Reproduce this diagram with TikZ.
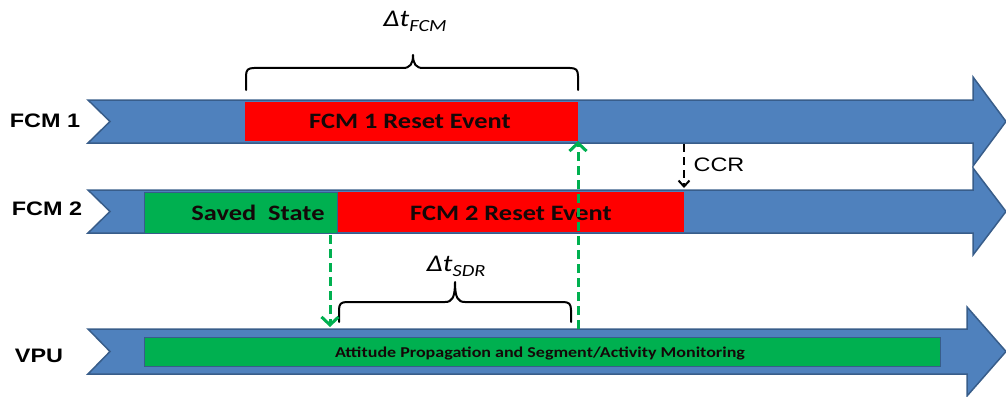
\documentclass[tikz,border=0pt]{standalone}
\usepackage{fontspec}
\setmainfont{Carlito}
\newfontfamily\arialf{Liberation Sans}
\usetikzlibrary{arrows.meta}
\definecolor{ablue}{HTML}{4F81BD}
\definecolor{ablueb}{HTML}{385D8A}
\definecolor{ored}{HTML}{FF0000}
\definecolor{ogreen}{HTML}{00B050}
\definecolor{txtdark}{HTML}{140808}
\newcommand\sx[1]{\scalebox{1.2}[1]{#1}}
\tikzset{
  flowarrow/.style={fill=ablue, draw=ablueb, line width=1.5pt, line join=miter},
  redbox/.style={fill=ored, draw=none, inner sep=0pt, outer sep=0pt},
  greenbox/.style={fill=ogreen, draw=ablueb, line width=1pt, inner sep=0pt, outer sep=0pt},
  boxtext/.style={font=\bfseries\fontsize{22}{24}\selectfont, text=txtdark, inner sep=0pt, anchor=base},
  rowlabel/.style={font=\arialf\bfseries\fontsize{19.5}{22}\selectfont, inner sep=0pt, anchor=base},
  deltalabel/.style={font=\itshape\fontsize{24}{26}\selectfont, inner sep=0pt, anchor=base},
  bracket/.style={draw=black, line width=2pt, line cap=round, line join=round},
  gdash/.style={draw=ogreen, line width=3pt, dash pattern=on 9pt off 5pt,
    -{Straight Barb[length=8pt,width=17pt,line width=3pt]}},
  kdash/.style={draw=black, line width=2pt, dash pattern=on 8pt off 5pt,
    -{Straight Barb[length=6pt,width=11pt,line width=2pt]}}
}
\begin{document}
\begin{tikzpicture}[x=1pt,y=-1pt]
\useasboundingbox (0,0) rectangle (1006,396);

% timeline arrows
\path[flowarrow] (88,100) -- (973,100) -- (973,77) -- (1006,121.5) -- (973,166) -- (973,143) -- (88,143) -- (110,121.5) -- cycle;
\path[flowarrow] (88,190) -- (973,190) -- (973,168) -- (1006,211.5) -- (973,255) -- (973,233) -- (88,233) -- (110,211.5) -- cycle;
\path[flowarrow] (88,329) -- (967,329) -- (967,307) -- (1006,351.5) -- (967,396) -- (967,374) -- (88,374) -- (110,351.5) -- cycle;

% row labels
\node[rowlabel] (l1) at (45,127) {\sx{FCM 1}};
\node[rowlabel] (l2) at (47,215) {\sx{FCM 2}};
\node[rowlabel] (l3) at (39,362) {\sx{VPU}};

% boxes
\node[redbox, minimum width=333pt, minimum height=39pt, anchor=north west] (r1) at (245,102) {};
\node[greenbox, minimum width=193pt, minimum height=41pt, anchor=north west] (ss) at (144,192) {};
\node[redbox, minimum width=346pt, minimum height=40pt, anchor=north west] (r2) at (338,192) {};
\node[greenbox, minimum width=796pt, minimum height=29pt, anchor=north west] (att) at (144,337) {};

\node[boxtext] (t1) at (410,128) {\sx{FCM 1 Reset Event}};
\node[boxtext] (t2) at (258,220) {\sx{Saved\ \ State}};
\node[boxtext] (t3) at (511,220) {\sx{FCM 2 Reset Event}};
\node[boxtext, font=\bfseries\fontsize{15}{17}\selectfont] (t4) at (540,357) {\sx{Attitude Propagation and Segment/Activity Monitoring}};

% brackets
\draw[bracket] (246,90) -- (246,76) .. controls (246,70) and (248,68) .. (254,68) -- (403,68) .. controls (410,68) and (413,64) .. (413,55) .. controls (413,64) and (416,68) .. (423,68) -- (570,68) .. controls (576,68) and (578,70) .. (578,76) -- (578,90);
\node[deltalabel] (dfcm) at (415,27) {\sx{Δt\raisebox{-5pt}{\fontsize{17}{19}\selectfont FCM}}};

\draw[bracket] (339,322) -- (339,310) .. controls (339,304) and (341,302) .. (347,302) -- (445,302) .. controls (452,302) and (455,298) .. (455,282) .. controls (455,298) and (458,302) .. (465,302) -- (563,302) .. controls (569,302) and (571,304) .. (571,310) -- (571,322);
\node[deltalabel] (dsdr) at (456,271) {\sx{Δt\raisebox{-5pt}{\fontsize{17}{19}\selectfont SDR}}};

% connectors
\coordinate (g1s) at (330,235);
\coordinate (g1e) at (330,327);
\draw[gdash] (g1s) -- (g1e);
\coordinate (g2s) at (578,329);
\coordinate (g2e) at (578,141);
\draw[gdash] (g2s) -- (g2e);

\coordinate (cs) at (684,144);
\coordinate (ce) at (684,188);
\draw[kdash] (cs) -- (ce);
\node[font=\arialf\fontsize{19.5}{22}\selectfont, inner sep=0pt, anchor=base] (ccr) at (719,171) {\sx{CCR}};
\end{tikzpicture}
\end{document}
